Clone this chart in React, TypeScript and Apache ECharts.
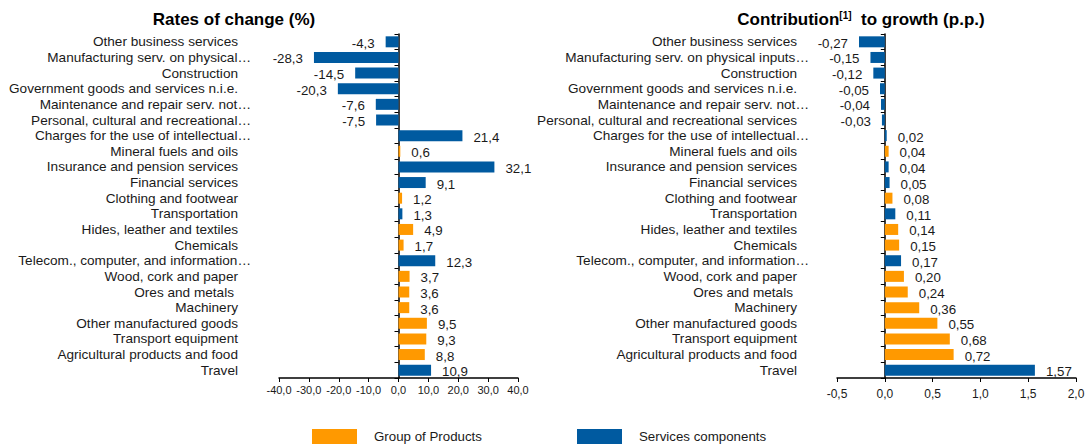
import React, { useEffect, useRef } from 'react';
import * as echarts from 'echarts';

const leftCategories = [
  'Other business services',
  'Manufacturing serv. on physical…',
  'Construction',
  'Government goods and services n.i.e.',
  'Maintenance and repair serv. not…',
  'Personal, cultural and recreational…',
  'Charges for the use of intellectual…',
  'Mineral fuels and oils',
  'Insurance and pension services',
  'Financial services',
  'Clothing and footwear',
  'Transportation',
  'Hides, leather and textiles',
  'Chemicals',
  'Telecom., computer, and information…',
  'Wood, cork and paper',
  'Ores and metals ',
  'Machinery',
  'Other manufactured goods',
  'Transport equipment',
  'Agricultural products and food',
  'Travel',
];

const rightCategories = [
  'Other business services',
  'Manufacturing serv. on physical inputs…',
  'Construction',
  'Government goods and services n.i.e.',
  'Maintenance and repair serv. not…',
  'Personal, cultural and recreational services',
  'Charges for the use of intellectual…',
  'Mineral fuels and oils',
  'Insurance and pension services',
  'Financial services',
  'Clothing and footwear',
  'Transportation',
  'Hides, leather and textiles',
  'Chemicals',
  'Telecom., computer, and information…',
  'Wood, cork and paper',
  'Ores and metals ',
  'Machinery',
  'Other manufactured goods',
  'Transport equipment',
  'Agricultural products and food',
  'Travel',
];

// 'P' = Group of Products, 'S' = Services components
const groupOf = ['S', 'S', 'S', 'S', 'S', 'S', 'S', 'P', 'S', 'S', 'P', 'S', 'P', 'P', 'S', 'P', 'P', 'P', 'P', 'P', 'P', 'S'];

const rateValues = [-4.3, -28.3, -14.5, -20.3, -7.6, -7.5, 21.4, 0.6, 32.1, 9.1, 1.2, 1.3, 4.9, 1.7, 12.3, 3.7, 3.6, 3.6, 9.5, 9.3, 8.8, 10.9];
const contributionValues = [-0.27, -0.15, -0.12, -0.05, -0.04, -0.03, 0.02, 0.04, 0.04, 0.05, 0.08, 0.11, 0.14, 0.15, 0.17, 0.2, 0.24, 0.36, 0.55, 0.68, 0.72, 1.57];

const seriesNames = ['Group of Products', 'Services components'];
const seriesColors = ['#FF9900', '#005AA0'];

const FONT = '"Liberation Sans", Arial, sans-serif';
const TEXT = '#1a1a1a';
const CAT_SIZE = 13.6;

function seriesData(values: number[], key: string) {
  return values.map((v, i) =>
    groupOf[i] === key
      ? { value: v, label: { position: v < 0 ? 'left' : 'right' } }
      : '-'
  );
}

function catFormatter(v: string) {
  if (v.endsWith('…')) return '{e|' + v + '}';
  if (v.endsWith(' ')) return '{o|' + v.trim() + '}';
  return '{r|' + v + '}';
}

const catRich = (pad: number) => ({
  e: { fontSize: CAT_SIZE, fontFamily: FONT, color: TEXT },
  r: { fontSize: CAT_SIZE, fontFamily: FONT, color: TEXT, padding: [0, pad, 0, 0] },
  o: { fontSize: CAT_SIZE, fontFamily: FONT, color: TEXT, padding: [0, pad + 4, 0, 0] },
});

export default function App() {
  const ref = useRef<HTMLDivElement>(null);

  useEffect(() => {
    document.body.style.margin = '0';
    if (!ref.current) return;
    const chart = echarts.init(ref.current, null, { renderer: 'svg' });

    const yAxisBase = (grid: number, data: string[], margin: number, pad: number) => ({
      type: 'category',
      gridIndex: grid,
      inverse: true,
      data,
      axisLine: { show: true, onZero: true, lineStyle: { color: '#000', width: 1.5 } },
      axisTick: { show: true, length: 4, interval: 0, lineStyle: { color: '#000', width: 1 } },
      axisLabel: {
        interval: 0,
        margin,
        color: TEXT,
        fontSize: CAT_SIZE,
        fontFamily: FONT,
        formatter: catFormatter,
        rich: catRich(pad),
      },
      splitLine: { show: false },
    });

    const xAxisBase = (
      grid: number,
      min: number,
      max: number,
      interval: number,
      digits: number,
      fontSize: number,
      margin: number
    ) => ({
      type: 'value',
      gridIndex: grid,
      min,
      max,
      interval,
      axisLine: { show: true, onZero: false, lineStyle: { color: '#000', width: 1.5 } },
      axisTick: { show: true, length: 4, lineStyle: { color: '#000', width: 1 } },
      splitLine: { show: false },
      axisLabel: {
        margin,
        color: TEXT,
        fontSize,
        fontFamily: FONT,
        formatter: (v: number) => v.toFixed(digits).replace('.', ','),
      },
    });

    const barSeries = (grid: number, values: number[], digits: number) =>
      [0, 1].map((k) => ({
        type: 'bar',
        name: seriesNames[k],
        xAxisIndex: grid,
        yAxisIndex: grid,
        data: seriesData(values, k === 0 ? 'P' : 'S'),
        barWidth: 11,
        barGap: '-100%',
        itemStyle: { color: seriesColors[k] },
        label: {
          show: true,
          distance: 11,
          offset: [0, 1.5],
          color: TEXT,
          fontSize: 13.3,
          fontFamily: FONT,
          formatter: (p: any) => Number(p.value).toFixed(digits).replace('.', ','),
        },
      }));

    const legendBase = (name: string, left: number) => ({
      data: [name],
      left,
      top: 424,
      icon: 'rect',
      itemWidth: 45,
      itemHeight: 15,
      selectedMode: false,
      textStyle: { fontSize: 13.3, fontFamily: FONT, color: TEXT, padding: [0, 0, 0, 12] },
    });

    chart.setOption({
      animation: false,
      backgroundColor: '#fff',
      textStyle: { fontFamily: FONT },
      grid: [
        { left: 279, width: 239, top: 34, height: 344, containLabel: false, outerBoundsMode: 'none' },
        { left: 837, width: 239, top: 34, height: 344, containLabel: false, outerBoundsMode: 'none' },
      ],
      xAxis: [xAxisBase(0, -40, 40, 10, 1, 11, 6), xAxisBase(1, -0.5, 2, 0.5, 1, 12, 10)],
      yAxis: [yAxisBase(0, leftCategories, 28, 13), yAxisBase(1, rightCategories, 28, 12)],
      series: [...barSeries(0, rateValues, 1), ...barSeries(1, contributionValues, 2)],
      legend: [legendBase(seriesNames[0], 307), legendBase(seriesNames[1], 572)],
      graphic: [
        {
          type: 'text',
          x: 234,
          y: 19,
          style: {
            text: 'Rates of change (%)',
            font: 'bold 17px ' + FONT,
            fill: '#000',
            textAlign: 'center',
            textVerticalAlign: 'middle',
            align: 'center',
            verticalAlign: 'middle',
          },
        },
        {
          type: 'text',
          x: 861,
          y: 19,
          style: {
            text: '{a|Contribution}{s|[1]}{a|  to growth (p.p.)}',
            rich: {
              a: { fontSize: 17, fontWeight: 'bold', fontFamily: FONT, color: '#000' },
              s: { fontSize: 10, fontWeight: 'bold', fontFamily: FONT, color: '#000', verticalAlign: 'top', padding: [0, 0, 4, 0] },
            },
            fill: '#000',
            textAlign: 'center',
            textVerticalAlign: 'middle',
            align: 'center',
            verticalAlign: 'middle',
          },
        },
      ],
    });

    return () => chart.dispose();
  }, []);

  return <div ref={ref} style={{ width: 1086, height: 446 }} />;
}
